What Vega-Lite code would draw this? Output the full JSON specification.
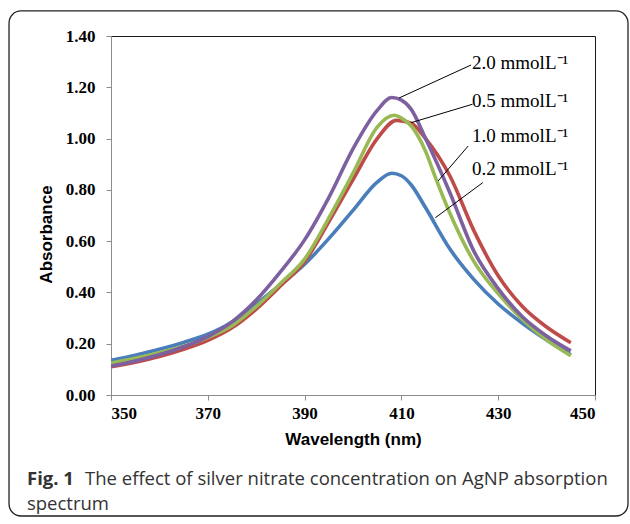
{
  "$schema": "https://vega.github.io/schema/vega-lite/v6.json",
  "width": 484,
  "height": 359,
  "padding": {"left": 8, "top": 10, "right": 0, "bottom": 0},
  "background": "white",
  "config": {
    "view": {"stroke": "#1a1a1a", "strokeWidth": 1},
    "axis": {
      "grid": false,
      "domainColor": "#8c8c8c",
      "tickColor": "#8c8c8c",
      "tickSize": 5,
      "labelFont": "Liberation Serif",
      "labelFontWeight": "bold",
      "labelFontSize": 17,
      "labelColor": "#000000",
      "titleFont": "Liberation Sans",
      "titleFontWeight": "bold",
      "titleFontSize": 17,
      "titleColor": "#000000"
    }
  },
  "datasets": {
    "spectra": [
      {"c": "0.2", "wl": 350, "a": 0.135}, {"c": "0.2", "wl": 355, "a": 0.155}, {"c": "0.2", "wl": 360, "a": 0.178}, {"c": "0.2", "wl": 365, "a": 0.205}, {"c": "0.2", "wl": 370, "a": 0.237}, {"c": "0.2", "wl": 375, "a": 0.285}, {"c": "0.2", "wl": 380, "a": 0.355}, {"c": "0.2", "wl": 385, "a": 0.43}, {"c": "0.2", "wl": 390, "a": 0.51}, {"c": "0.2", "wl": 395, "a": 0.61}, {"c": "0.2", "wl": 400, "a": 0.72}, {"c": "0.2", "wl": 405, "a": 0.83}, {"c": "0.2", "wl": 408, "a": 0.865}, {"c": "0.2", "wl": 410, "a": 0.855}, {"c": "0.2", "wl": 412, "a": 0.82}, {"c": "0.2", "wl": 415, "a": 0.73}, {"c": "0.2", "wl": 420, "a": 0.57}, {"c": "0.2", "wl": 425, "a": 0.45}, {"c": "0.2", "wl": 430, "a": 0.355}, {"c": "0.2", "wl": 435, "a": 0.28}, {"c": "0.2", "wl": 440, "a": 0.215}, {"c": "0.2", "wl": 445, "a": 0.157},
      {"c": "0.5", "wl": 350, "a": 0.11}, {"c": "0.5", "wl": 355, "a": 0.128}, {"c": "0.5", "wl": 360, "a": 0.15}, {"c": "0.5", "wl": 365, "a": 0.178}, {"c": "0.5", "wl": 370, "a": 0.213}, {"c": "0.5", "wl": 375, "a": 0.262}, {"c": "0.5", "wl": 380, "a": 0.335}, {"c": "0.5", "wl": 385, "a": 0.425}, {"c": "0.5", "wl": 390, "a": 0.52}, {"c": "0.5", "wl": 395, "a": 0.675}, {"c": "0.5", "wl": 400, "a": 0.84}, {"c": "0.5", "wl": 405, "a": 1.0}, {"c": "0.5", "wl": 409, "a": 1.071}, {"c": "0.5", "wl": 412, "a": 1.06}, {"c": "0.5", "wl": 415, "a": 1.0}, {"c": "0.5", "wl": 420, "a": 0.855}, {"c": "0.5", "wl": 425, "a": 0.64}, {"c": "0.5", "wl": 430, "a": 0.465}, {"c": "0.5", "wl": 435, "a": 0.345}, {"c": "0.5", "wl": 440, "a": 0.265}, {"c": "0.5", "wl": 445, "a": 0.204},
      {"c": "1.0", "wl": 350, "a": 0.124}, {"c": "1.0", "wl": 355, "a": 0.143}, {"c": "1.0", "wl": 360, "a": 0.165}, {"c": "1.0", "wl": 365, "a": 0.19}, {"c": "1.0", "wl": 370, "a": 0.224}, {"c": "1.0", "wl": 375, "a": 0.27}, {"c": "1.0", "wl": 380, "a": 0.345}, {"c": "1.0", "wl": 385, "a": 0.435}, {"c": "1.0", "wl": 390, "a": 0.53}, {"c": "1.0", "wl": 395, "a": 0.69}, {"c": "1.0", "wl": 400, "a": 0.865}, {"c": "1.0", "wl": 405, "a": 1.045}, {"c": "1.0", "wl": 408.5, "a": 1.091}, {"c": "1.0", "wl": 410, "a": 1.08}, {"c": "1.0", "wl": 412, "a": 1.05}, {"c": "1.0", "wl": 415, "a": 0.95}, {"c": "1.0", "wl": 417, "a": 0.85}, {"c": "1.0", "wl": 420, "a": 0.71}, {"c": "1.0", "wl": 425, "a": 0.52}, {"c": "1.0", "wl": 430, "a": 0.395}, {"c": "1.0", "wl": 435, "a": 0.295}, {"c": "1.0", "wl": 440, "a": 0.215}, {"c": "1.0", "wl": 445, "a": 0.153},
      {"c": "2.0", "wl": 350, "a": 0.113}, {"c": "2.0", "wl": 355, "a": 0.133}, {"c": "2.0", "wl": 360, "a": 0.157}, {"c": "2.0", "wl": 365, "a": 0.188}, {"c": "2.0", "wl": 370, "a": 0.228}, {"c": "2.0", "wl": 375, "a": 0.285}, {"c": "2.0", "wl": 380, "a": 0.37}, {"c": "2.0", "wl": 385, "a": 0.48}, {"c": "2.0", "wl": 390, "a": 0.605}, {"c": "2.0", "wl": 395, "a": 0.77}, {"c": "2.0", "wl": 400, "a": 0.96}, {"c": "2.0", "wl": 405, "a": 1.11}, {"c": "2.0", "wl": 408, "a": 1.16}, {"c": "2.0", "wl": 410, "a": 1.15}, {"c": "2.0", "wl": 412, "a": 1.115}, {"c": "2.0", "wl": 415, "a": 1.0}, {"c": "2.0", "wl": 420, "a": 0.79}, {"c": "2.0", "wl": 425, "a": 0.56}, {"c": "2.0", "wl": 430, "a": 0.415}, {"c": "2.0", "wl": 435, "a": 0.305}, {"c": "2.0", "wl": 440, "a": 0.23}, {"c": "2.0", "wl": 445, "a": 0.172}
    ],
    "leaders": [
      {"wl": 409.5, "a": 1.158, "wl2": 424.4, "a2": 1.287},
      {"wl": 412.0, "a": 1.062, "wl2": 424.7, "a2": 1.134},
      {"wl": 417.6, "a": 0.835, "wl2": 423.8, "a2": 0.971},
      {"wl": 417.0, "a": 0.691, "wl2": 426.8, "a2": 0.828}
    ],
    "labels": [
      {"wl": 424.6, "a": 1.296, "t": "2.0 mmolL⁻¹"},
      {"wl": 424.6, "a": 1.147, "t": "0.5 mmolL⁻¹"},
      {"wl": 424.6, "a": 1.01, "t": "1.0 mmolL⁻¹"},
      {"wl": 424.6, "a": 0.88, "t": "0.2 mmolL⁻¹"}
    ],
    "captionBold": [
      {"wl": 332.64, "a": -0.3276, "t": "Fig. 1"}
    ],
    "caption": [
      {"wl": 344.63, "a": -0.3276, "t": "The effect of silver nitrate concentration on AgNP absorption"},
      {"wl": 332.64, "a": -0.4251, "t": "spectrum"}
    ]
  },
  "layer": [
    {
      "data": {"values": [{}]},
      "mark": {"type": "rect", "clip": false, "filled": false, "stroke": "#231f20", "strokeWidth": 1.3, "cornerRadius": 12},
      "encoding": {
        "x": {"datum": 328.93, "type": "quantitative", "scale": {"domain": [350, 450], "nice": false, "zero": false}},
        "x2": {"datum": 456.82},
        "y": {"datum": 1.4977, "type": "quantitative", "scale": {"domain": [0, 1.4], "nice": false, "zero": false}},
        "y2": {"datum": -0.4719}
      }
    },
    {
      "data": {"name": "spectra"},
      "mark": {"type": "line", "interpolate": "monotone", "strokeWidth": 3.6, "clip": true},
      "encoding": {
        "x": {"field": "wl", "type": "quantitative", "scale": {"domain": [350, 450], "nice": false, "zero": false},
          "axis": {"values": [350, 370, 390, 410, 430, 450], "format": "d", "title": "Wavelength (nm)", "labelPadding": 5, "titleY": 44, "titleBaseline": "middle"}},
        "y": {"field": "a", "type": "quantitative", "scale": {"domain": [0, 1.4], "nice": false, "zero": false},
          "axis": {"values": [0, 0.2, 0.4, 0.6, 0.8, 1.0, 1.2, 1.4], "format": ".2f", "title": "Absorbance", "labelPadding": 11, "titleX": -65, "titleY": 198, "titleAngle": -90, "titleAlign": "center", "titleBaseline": "middle"}},
        "color": {"field": "c", "type": "nominal", "legend": null,
          "scale": {"domain": ["0.2", "0.5", "1.0", "2.0"], "range": ["#4a7ebb", "#be4b48", "#98b954", "#7d60a0"]}},
        "order": {"field": "c"}
      }
    },
    {
      "data": {"name": "leaders"},
      "mark": {"type": "rule", "color": "#000000", "strokeWidth": 1},
      "encoding": {
        "x": {"field": "wl", "type": "quantitative", "scale": {"domain": [350, 450], "nice": false, "zero": false}},
        "y": {"field": "a", "type": "quantitative", "scale": {"domain": [0, 1.4], "nice": false, "zero": false}},
        "x2": {"field": "wl2"},
        "y2": {"field": "a2"}
      }
    },
    {
      "data": {"name": "labels"},
      "mark": {"type": "text", "align": "left", "baseline": "middle", "font": "Liberation Serif", "fontSize": 19, "color": "#000000"},
      "encoding": {
        "x": {"field": "wl", "type": "quantitative", "scale": {"domain": [350, 450], "nice": false, "zero": false}},
        "y": {"field": "a", "type": "quantitative", "scale": {"domain": [0, 1.4], "nice": false, "zero": false}},
        "text": {"field": "t"}
      }
    },
    {
      "data": {"name": "captionBold"},
      "mark": {"type": "text", "align": "left", "baseline": "middle", "font": "Open Sans", "fontSize": 18.5, "fontWeight": "bold", "color": "#333333", "clip": false},
      "encoding": {
        "x": {"field": "wl", "type": "quantitative", "scale": {"domain": [350, 450], "nice": false, "zero": false}},
        "y": {"field": "a", "type": "quantitative", "scale": {"domain": [0, 1.4], "nice": false, "zero": false}},
        "text": {"field": "t"}
      }
    },
    {
      "data": {"name": "caption"},
      "mark": {"type": "text", "align": "left", "baseline": "middle", "font": "Open Sans", "fontSize": 18.5, "color": "#333333", "clip": false},
      "encoding": {
        "x": {"field": "wl", "type": "quantitative", "scale": {"domain": [350, 450], "nice": false, "zero": false}},
        "y": {"field": "a", "type": "quantitative", "scale": {"domain": [0, 1.4], "nice": false, "zero": false}},
        "text": {"field": "t"}
      }
    }
  ]
}
